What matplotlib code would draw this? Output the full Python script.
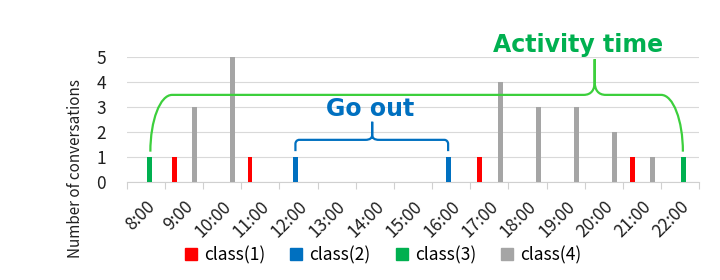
import matplotlib
matplotlib.use('Agg')
import matplotlib.pyplot as plt
from matplotlib.path import Path
from matplotlib.patches import PathPatch, Patch

# data (time of day in decimal hours, count of conversations)
hours = list(range(8, 23))
hour_labels = [f'{h}:00' for h in hours]

class1_time = [8.74, 10.73, 16.73, 20.74]
class1_count = [1, 1, 1, 1]
class2_time = [11.92, 15.92]
class2_count = [1, 1]
class3_time = [8.09, 22.09]
class3_count = [1, 1]
class4_time = [9.28, 10.27, 17.29, 18.29, 19.29, 20.28, 21.28]
class4_count = [3, 5, 4, 3, 3, 2, 1]

class_names = ['class(1)', 'class(2)', 'class(3)', 'class(4)']
class_colors = ['#FF0000', '#0070C0', '#00B050', '#A5A5A5']

plt.rcParams['font.family'] = ['Noto Sans CJK JP', 'DejaVu Sans']


def bracket(ax, xl, xr, xm, ybase, ybar, ymeet, ytip, rx, ry, dt, color):
    # curly bracket: rounded ends, pointed tip in the middle
    k = 0.552
    M, L, C = Path.MOVETO, Path.LINETO, Path.CURVE4
    verts = [(xl, ybase), (xl, ybar - ry),
             (xl, ybar - ry + k * ry), (xl + rx - k * rx, ybar), (xl + rx, ybar),
             (xm - dt, ybar),
             (xm - 0.3 * dt, ybar), (xm, ybar + 0.4 * (ymeet - ybar)), (xm, ymeet),
             (xm, ytip), (xm, ymeet),
             (xm, ybar + 0.4 * (ymeet - ybar)), (xm + 0.3 * dt, ybar), (xm + dt, ybar),
             (xr - rx, ybar),
             (xr - rx + k * rx, ybar), (xr, ybar - ry + k * ry), (xr, ybar - ry),
             (xr, ybase)]
    codes = [M, L, C, C, C, L, C, C, C, L, L, C, C, C, L, C, C, C, L]
    ax.add_patch(PathPatch(Path(verts, codes), fill=False, edgecolor=color,
                           lw=1.6, clip_on=False, zorder=4))


fig = plt.figure(figsize=(7.2, 2.8), dpi=100)
ax = fig.add_axes([126.7 / 720, 1 - 182.3 / 280, 572.6 / 720, 125.6 / 280])

w = 0.13
series = [(class1_time, class1_count), (class2_time, class2_count),
          (class3_time, class3_count), (class4_time, class4_count)]
for (t, c), col in zip(series, class_colors):
    ax.bar(t, c, width=w, color=col, zorder=3)

ax.set_xlim(7.5, 22.5)
ax.set_ylim(0, 5)
ax.set_yticks(range(6))
ax.yaxis.grid(True, color='#D9D9D9', lw=0.8, zorder=0)
ax.set_axisbelow(True)
for s in ['left', 'right', 'top']:
    ax.spines[s].set_visible(False)
ax.spines['bottom'].set_color('#D0D0D0')
ax.spines['bottom'].set_linewidth(0.8)

ax.set_xticks(hours)
ax.set_xticklabels(hour_labels, rotation=45, ha='right', rotation_mode='anchor',
                   fontsize=12.5, color='#202020')
ax.set_xticks([h - 0.5 for h in hours] + [22.5], minor=True)
ax.tick_params(axis='x', which='major', length=0, pad=11)
ax.tick_params(axis='x', which='minor', length=5, color='#D0D0D0', width=0.8)
ax.tick_params(axis='y', length=0, pad=15, labelsize=12.5, labelcolor='#202020')

fig.text(75 / 720, 1 - 168 / 280, 'Number of conversations', rotation=90,
         ha='center', va='center', fontsize=11, color='#202020')

# annotations
bracket(ax, 8.12, 22.07, 19.76, 1.22, 3.48, 4.0, 4.9, 0.57, 2.26, 0.29, '#3CCF3C')
bracket(ax, 11.92, 15.92, 13.93, 1.24, 1.69, 1.88, 2.41, 0.1, 0.16, 0.18, '#0070C0')
ax.text(19.33, 5.47, 'Activity time', color='#00B050', fontsize=17, fontweight='bold',
        family='DejaVu Sans', ha='center', va='center', clip_on=False)
ax.text(13.88, 2.92, 'Go out', color='#0070C0', fontsize=17, fontweight='bold',
        family='DejaVu Sans', ha='center', va='center', clip_on=False)

handles = [Patch(color=c) for c in class_colors]
fig.legend(handles, class_names, loc='center', bbox_to_anchor=(383 / 720, 1 - 255 / 280),
           ncol=4, frameon=False, handlelength=0.7, handleheight=0.7,
           handletextpad=0.4, columnspacing=1.45, fontsize=12.5)

fig.savefig('out.png', dpi=100)
